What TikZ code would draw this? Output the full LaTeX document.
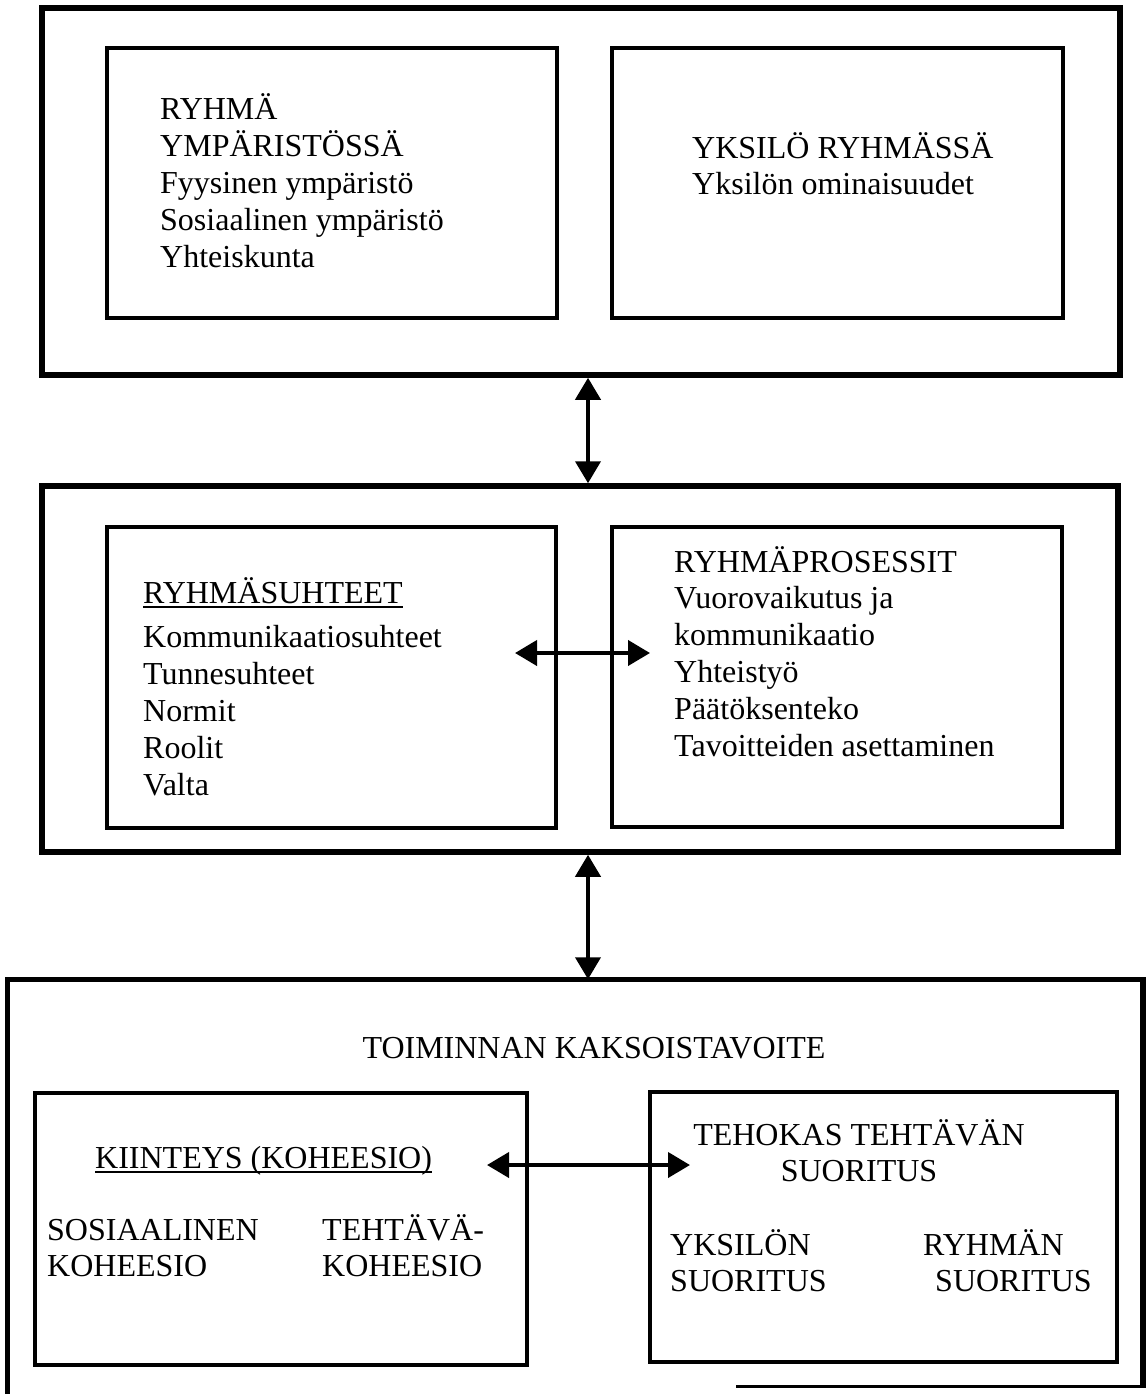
\documentclass[tikz,border=0pt]{standalone}
\usepackage{fontspec}
\setmainfont{Liberation Serif}
\usetikzlibrary{arrows.meta}
\newcommand\myul[1]{\setbox0=\hbox{#1}\rlap{\rule[-4.5pt]{\wd0}{1.6pt}}\box0}
\begin{document}
\begin{tikzpicture}[x=1pt,y=-1pt,
  outer/.style={draw, line width=5.5pt, inner sep=0pt},
  inner/.style={draw, line width=3.5pt, inner sep=0pt},
  txt/.style={anchor=base west, inner sep=0pt, font=\fontsize{32}{36.8}\selectfont},
  dbl/.style={line width=4pt, {Triangle[length=22pt,width=25pt]}-{Triangle[length=22pt,width=25pt]}}]
\useasboundingbox (0,0) rectangle (1147,1394);
% top row
\node[outer, minimum width=1078pt, minimum height=367pt] (top) at (581,191.5) {};
\node[inner, minimum width=450pt, minimum height=270pt] (tl) at (332,183) {};
\node[inner, minimum width=451pt, minimum height=270pt] (tr) at (837.5,183) {};
% middle row
\node[outer, minimum width=1076pt, minimum height=366pt] (mid) at (580,669) {};
\node[inner, minimum width=449pt, minimum height=301pt] (ml) at (331.5,677.5) {};
\node[inner, minimum width=450pt, minimum height=300pt] (mr) at (837,677) {};
% bottom row
\node[outer, draw=none, minimum width=1130pt, minimum height=403pt] (bot) at (575,1183.5) {};
\draw[line width=5.5pt] ([yshift=-12pt]bot.south west) -- (bot.north west) -- (bot.north east) -- (bot.south east);
\draw[line width=2.5pt] ([xshift=2.75pt,yshift=1.5pt]bot.south east) -- ++(-410,0);
\node[inner, minimum width=492pt, minimum height=272pt] (bl) at (281,1229) {};
\node[inner, minimum width=467pt, minimum height=270pt] (br) at (883.5,1227) {};
% arrows
\coordinate (ax) at (588,0);
\draw[dbl] (top.south -| ax) -- (mid.north -| ax);
\draw[dbl] (mid.south -| ax) -- (bot.north -| ax);
\coordinate (h1l) at (515,653);
\coordinate (h1r) at (650,653);
\draw[dbl] (h1l) -- (h1r);
\coordinate (h2l) at (487,1165);
\coordinate (h2r) at (690,1165);
\draw[dbl] (h2l) -- (h2r);
% texts
\node[txt] (t1) at (160,120) {\begin{tabular}[t]{@{}l@{}}RYHMÄ\\ YMPÄRISTÖSSÄ\\ Fyysinen ympäristö\\ Sosiaalinen ympäristö\\ Yhteiskunta\end{tabular}};
\node[txt] (t2) at (692,158) {\begin{tabular}[t]{@{}l@{}}YKSILÖ RYHMÄSSÄ\\ Yksilön ominaisuudet\end{tabular}};
\node[txt] (t3) at (143,603) {\begin{tabular}[t]{@{}l@{}}\myul{RYHMÄSUHTEET}\\[8pt] Kommunikaatiosuhteet\\ Tunnesuhteet\\ Normit\\ Roolit\\ Valta\end{tabular}};
\node[txt] (t4) at (674,572) {\begin{tabular}[t]{@{}l@{}}RYHMÄPROSESSIT\\ Vuorovaikutus ja\\ kommunikaatio\\ Yhteistyö\\ Päätöksenteko\\ Tavoitteiden asettaminen\end{tabular}};
\node[txt, anchor=base] (t5) at (594,1058) {TOIMINNAN KAKSOISTAVOITE};
\node[txt] (t6) at (95,1168) {\myul{KIINTEYS (KOHEESIO)}};
\node[txt] (t7) at (47,1240) {\begin{tabular}[t]{@{}l@{}}SOSIAALINEN\\ KOHEESIO\end{tabular}};
\node[txt] (t8) at (322,1240) {\begin{tabular}[t]{@{}l@{}}TEHTÄVÄ-\\ KOHEESIO\end{tabular}};
\node[txt, anchor=base] (t9) at (859,1145) {\begin{tabular}[t]{@{}c@{}}TEHOKAS TEHTÄVÄN\\ SUORITUS\end{tabular}};
\node[txt] (t10) at (670,1255) {\begin{tabular}[t]{@{}l@{}}YKSILÖN\\ SUORITUS\end{tabular}};
\node[txt] (t11) at (923,1255) {\begin{tabular}[t]{@{}l@{}}RYHMÄN\\ \hspace{12pt}SUORITUS\end{tabular}};
\end{tikzpicture}
\end{document}
